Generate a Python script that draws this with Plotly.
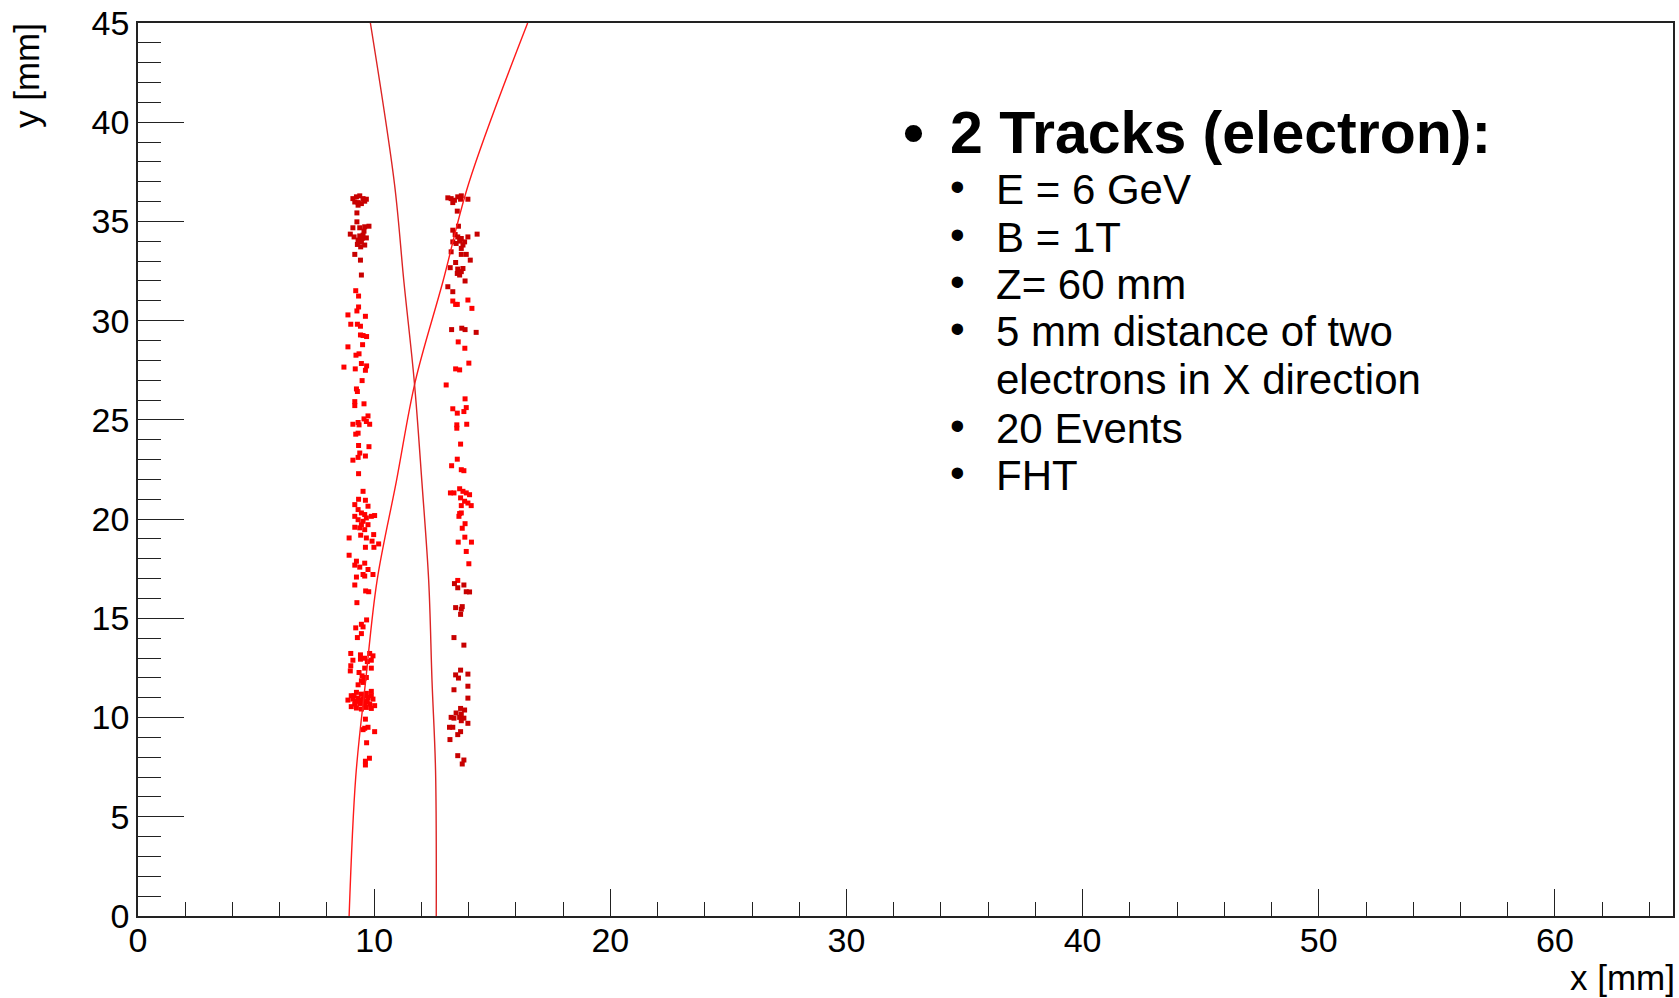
import plotly.graph_objects as go

# ---- hit positions (mm) ----
# left column, upper part (darker hits)
left_dark_x = [9.10, 9.25, 9.39, 9.53, 9.67, 9.18, 9.32, 9.46, 9.60, 9.32, 9.27, 9.27, 9.10, 9.39,
               9.60, 9.78, 9.57, 8.99, 9.15, 9.39, 9.53, 9.67, 9.32, 9.46, 9.29, 9.43, 9.60, 9.49,
               9.18, 9.42, 9.46]
left_dark_y = [36.15, 36.24, 36.29, 36.15, 36.12, 35.98, 35.95, 35.90, 36.02, 35.82, 35.43, 34.98,
               34.68, 34.68, 34.73, 34.76, 34.51, 34.36, 34.22, 34.27, 34.31, 34.17, 34.06, 33.97,
               33.84, 33.72, 33.81, 34.14, 33.34, 33.05, 32.30]

# left column, lower part
left_red_x = [9.22, 9.34, 9.34, 9.27, 8.89, 9.63, 9.01, 9.29, 9.42, 9.42, 9.53, 9.68, 9.51, 8.89,
              9.23, 9.36, 8.72, 9.20, 9.46, 9.68, 9.63, 9.49,
              9.25, 9.29, 9.18, 9.18, 9.57, 9.10, 9.32, 9.36, 9.57, 9.74, 9.67, 9.81, 9.22, 9.32,
              9.34, 9.78, 9.39, 9.32, 9.63, 9.10, 9.34, 9.53, 9.34, 9.63, 9.18, 9.32, 9.74, 9.46,
              9.18, 9.60, 10.02, 9.32, 9.53, 9.74, 9.18, 9.39, 9.67, 9.88, 9.46, 9.60, 8.94, 9.43,
              9.67, 9.98, 9.91, 10.19, 9.63, 9.99, 8.94, 9.25, 9.60, 9.18, 9.39, 9.74, 9.53, 9.95,
              9.25, 9.60,
              9.18, 9.64, 9.77, 9.27, 9.68, 9.22, 9.46, 9.53, 9.29, 9.46, 9.01, 9.42, 9.81, 9.95,
              9.10, 9.42, 9.60, 9.71, 9.88, 9.01, 8.99, 9.36, 9.60, 9.88, 9.49, 9.57, 9.46, 9.67,
              9.32, 9.53,
              9.03, 9.25, 9.46, 9.67, 9.88, 8.89, 9.10, 9.32, 9.53, 9.74, 9.95, 9.18, 9.39, 9.60,
              9.81, 10.02, 9.03, 9.25, 9.46, 9.67, 9.88, 9.32, 9.53, 9.15, 9.57, 9.20, 9.43, 9.71,
              9.88,
              9.63, 9.60, 9.74, 9.53, 10.02, 9.68, 9.80, 9.63, 9.63]
left_red_y = [31.51, 31.24, 30.69, 30.49, 30.29, 30.22, 29.82, 29.82, 29.72, 29.28, 29.25, 29.20,
              28.79, 28.68, 28.26, 28.33, 27.66, 27.57, 27.84, 27.72, 27.50, 26.98,
              26.56, 26.43, 25.92, 25.72, 25.81, 24.78, 24.87, 24.75, 25.05, 25.20, 24.92, 24.78,
              24.28, 24.33, 23.71, 23.65, 23.33, 23.11, 23.18, 22.97, 22.29, 21.40, 21.00, 20.95,
              20.73, 20.48, 20.65, 20.31, 20.14, 20.23, 20.18, 19.97, 19.89, 19.72, 19.59, 19.56,
              20.06, 20.14, 19.72, 19.47, 19.05, 19.19, 19.05, 19.22, 18.89, 18.75, 18.58, 18.58,
              18.18, 17.88, 17.78, 17.68, 17.58, 17.46, 17.21, 17.21, 17.08, 17.13,
              16.68, 16.38, 16.34, 15.79, 14.92, 14.52, 14.70, 14.57, 14.03, 14.23, 13.23, 13.16,
              13.23, 13.11, 12.89, 12.94, 12.99, 12.82, 12.89, 12.61, 12.35, 12.27, 12.49, 12.49,
              12.10, 11.97, 11.85, 12.02, 11.65, 11.77,
              11.10, 11.27, 11.18, 11.22, 11.32, 10.88, 10.93, 10.98, 10.93, 11.01, 10.93, 10.68,
              10.71, 10.65, 10.68, 10.60, 10.55, 10.48, 10.43, 10.51, 10.46, 10.85, 10.76, 11.10,
              11.10, 10.81, 10.88, 10.81, 11.10,
              9.92, 9.46, 9.51, 9.39, 9.29, 8.73, 7.95, 7.80, 7.61]

# right column, upper part (darker hits)
right_dark_x = [13.12, 13.26, 13.40, 13.54, 13.69, 13.66, 13.97, 13.33, 13.52, 13.57, 13.33, 13.43,
                13.54, 13.69, 13.33, 13.47, 13.62, 13.76, 13.83, 13.97, 14.36, 13.69, 13.26, 13.69,
                13.90, 14.07, 13.45, 13.22, 13.54, 13.69, 13.62, 13.76, 13.52, 13.85, 13.12, 13.33,
                13.28, 13.71, 13.85, 14.32]
right_dark_y = [36.19, 36.15, 36.07, 36.24, 36.29, 36.12, 36.12, 35.95, 35.52, 34.76, 34.56, 34.34,
                34.22, 34.14, 33.97, 33.89, 34.01, 33.81, 33.97, 34.22, 34.36, 33.64, 33.47, 33.34,
                33.34, 33.05, 32.93, 32.67, 32.60, 32.47, 32.30, 32.63, 32.38, 32.00, 31.71, 31.46,
                29.55, 29.62, 29.55, 29.41]

# right column, middle part
right_red_x = [13.33, 13.45, 13.52, 13.97, 14.14, 13.56, 13.84, 14.01, 13.45, 13.62,
               13.05, 13.85, 13.33, 13.52, 13.80, 13.90, 13.50, 13.50, 13.92, 13.66, 13.52, 13.28,
               13.69, 13.80, 13.23, 13.38, 13.62, 13.76, 13.90, 14.04, 13.66, 13.83, 13.97, 14.11,
               13.69, 13.62, 13.59, 13.69, 13.85, 13.73, 13.84, 13.56, 14.12, 13.90, 14.01, 13.54]
right_red_y = [30.99, 30.82, 30.82, 31.04, 30.62, 28.93, 28.61, 27.86, 27.57, 27.52,
               26.76, 26.06, 25.56, 25.34, 25.42, 25.62, 24.75, 24.58, 24.78, 23.78, 23.02, 22.69,
               22.49, 22.44, 21.32, 21.32, 21.53, 21.40, 21.32, 21.23, 21.07, 20.90, 20.81, 20.68,
               20.68, 20.28, 20.14, 20.31, 19.77, 19.54, 19.09, 18.84, 18.84, 18.37, 17.75, 16.91]

# right column, lower part (darker hits)
right_low_x = [13.40, 13.54, 13.80, 13.90, 14.04, 13.45, 13.69, 13.73, 13.66, 13.38, 13.80, 13.66,
               13.45, 13.57, 13.97, 13.38, 13.97, 13.97, 13.66, 13.83, 13.47, 13.69, 13.26, 13.38,
               13.62, 13.80, 13.69, 13.97, 13.19, 13.33, 13.66, 13.54, 13.21, 13.54, 13.80, 13.73]
right_low_y = [16.75, 16.54, 16.68, 16.34, 16.33, 15.54, 15.46, 15.59, 15.20, 14.03, 13.65, 12.39,
               12.15, 11.99, 12.19, 11.40, 11.58, 10.98, 10.46, 10.38, 10.23, 10.18, 10.01, 9.97,
               10.01, 9.97, 9.84, 9.71, 9.51, 9.51, 9.29, 9.14, 8.89, 8.08, 7.86, 7.66]

# ---- fitted tracks (x in mm at the given y in mm) ----
track1_y = [0.0, 7.0, 11.85, 16.88, 21.9, 26.93, 31.96, 36.9, 45.0]
track1_x = [8.94, 9.22, 9.64, 10.12, 10.94, 11.74, 12.91, 14.00, 16.50]
track2_y = [0.0, 7.33, 11.85, 16.88, 21.9, 26.93, 31.96, 36.9, 45.0]
track2_x = [12.63, 12.60, 12.45, 12.31, 12.02, 11.70, 11.26, 10.86, 9.84]

DARK = "#c80000"
RED = "#ff0000"
FONT = "Liberation Sans, Arial, sans-serif"

fig = go.Figure()


def hits(xs, ys, color):
    fig.add_trace(go.Scatter(x=xs, y=ys, mode="markers",
                             marker=dict(symbol="square", size=5, color=color, line=dict(width=0)),
                             showlegend=False, hoverinfo="x+y"))


hits(left_red_x, left_red_y, RED)
hits(right_red_x, right_red_y, RED)
hits(left_dark_x, left_dark_y, DARK)
hits(right_dark_x, right_dark_y, DARK)
hits(right_low_x, right_low_y, DARK)

fig.add_trace(go.Scatter(x=track1_x, y=track1_y, mode="lines",
                         line=dict(color="#ff1a1a", width=1.4, shape="spline"), showlegend=False))
fig.add_trace(go.Scatter(x=track2_x, y=track2_y, mode="lines",
                         line=dict(color="#dc2424", width=1.4, shape="spline"), showlegend=False))

W, H = 1679, 998
L, R, T, B = 138, 4, 21, 82
PW, PH = W - L - R, H - T - B


def px(X, Y):
    """Convert page pixel position to paper coordinates."""
    return (X - L) / PW, (H - B - Y) / PH


annotations = []


def label(text, X, Y, size, xanchor="left", bold=False, angle=0):
    xp, yp = px(X, Y)
    annotations.append(dict(text=f"<b>{text}</b>" if bold else text, x=xp, y=yp,
                            xref="paper", yref="paper", xanchor=xanchor, yanchor="middle",
                            showarrow=False, textangle=angle,
                            font=dict(family=FONT, size=size, color="black")))


# bulleted text block
label("•", 915, 131, 60, xanchor="center", bold=True)
label("2 Tracks (electron):", 949, 131, 59, bold=True)
lines = ["E = 6 GeV", "B = 1T", "Z= 60 mm", "5 mm distance of two",
         "electrons in X direction", "20 Events", "FHT"]
centers = [188, 235.5, 283, 330.5, 378, 427.5, 474.5]
for txt, cy in zip(lines, centers):
    if not txt.startswith("electrons"):
        label("•", 959, cy - 3, 42, xanchor="center")
    label(txt, 995, cy, 42)

# axis titles
label("x [mm]", 1679, 978, 35, xanchor="right")
label("y [mm]", 26.5, 73.5, 35, xanchor="center", angle=-90)

axis_common = dict(showgrid=False, zeroline=False, showline=True, mirror=True,
                   linecolor="#222222", linewidth=1.5, ticks="inside", tickcolor="#222222",
                   tickwidth=1.3, tickfont=dict(family=FONT, size=34, color="black"))

fig.update_layout(
    width=W, height=H,
    margin=dict(l=L, r=R, t=T, b=B, pad=0),
    paper_bgcolor="white", plot_bgcolor="white",
    xaxis=dict(range=[0, 65], dtick=10, tick0=0, ticklen=27, ticklabelstandoff=-7,
               minor=dict(dtick=2, tick0=0, ticklen=14, ticks="inside", tickcolor="#222222", tickwidth=1.3),
               **axis_common),
    yaxis=dict(range=[0, 45], dtick=5, tick0=0, ticklen=46,
               minor=dict(dtick=1, tick0=0, ticklen=23, ticks="inside", tickcolor="#222222", tickwidth=1.3),
               **axis_common),
    annotations=annotations,
)

fig.write_html("out.html")
